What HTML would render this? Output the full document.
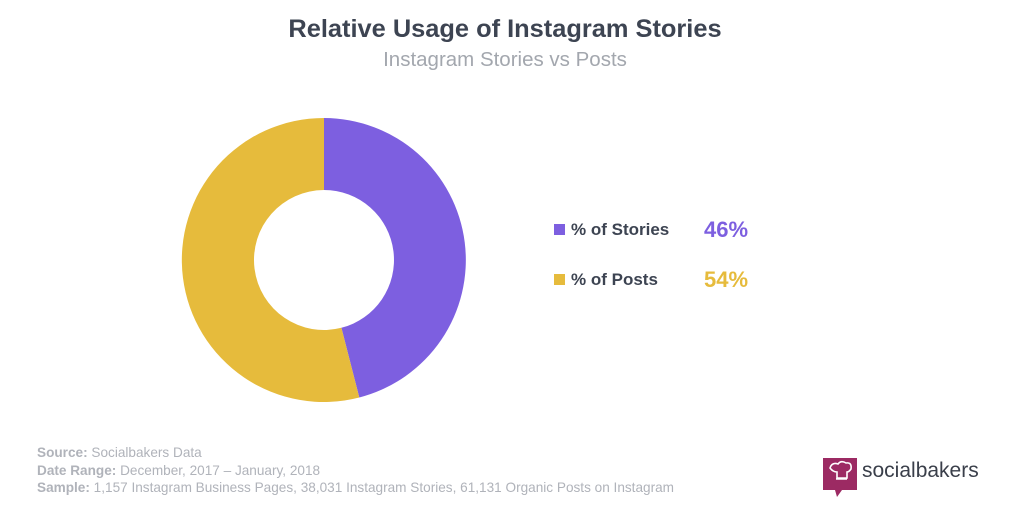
<!DOCTYPE html>
<html><head><style>
body{margin:0;width:1024px;height:528px;background:#fff;font-family:"Liberation Sans",sans-serif;position:relative;overflow:hidden}
.t{position:absolute;left:0;width:1010px;text-align:center}
.a{position:absolute;white-space:nowrap}
</style></head><body>
<div class="t" style="top:15px;font-size:25.4px;font-weight:bold;color:#3d4452">Relative Usage of Instagram Stories</div>
<div class="t" style="top:48px;font-size:20.5px;color:#a3a7ae">Instagram Stories vs Posts</div>
<svg style="position:absolute;left:0;top:0" width="1024" height="528">
<path d="M324,118 A142,142 0 0 1 359.3,397.5 L341.4,327.8 A70,70 0 0 0 324,190 Z" fill="#7d5fe0"/>
<path d="M359.3,397.5 A142,142 0 1 1 324,118 L324,190 A70,70 0 1 0 341.4,327.8 Z" fill="#e6bb3c"/>
<rect x="554" y="224" width="11" height="11" fill="#7d5fe0"/>
<rect x="554" y="274" width="11" height="11" fill="#e6bb3c"/>
<path d="M823,458 h34 v32 h-15 l-5,7 l-2,-7 h-12 z" fill="#9c2a63"/>
<path d="M830,468 q2,-6 8,-4 q3,-4 8,-1 q6,-1 5,6 q-2,3 -4,3 v6 h-10 v-6 q-4,0 -7,-4 z M836,479 h11" fill="none" stroke="#fff" stroke-width="1.6"/>
</svg>
<div class="a" style="left:571px;top:220px;font-size:17px;font-weight:bold;color:#3d4452">% of Stories</div>
<div class="a" style="left:704px;top:217px;font-size:22px;font-weight:bold;color:#7d5fe0">46%</div>
<div class="a" style="left:571px;top:270px;font-size:17px;font-weight:bold;color:#3d4452">% of Posts</div>
<div class="a" style="left:704px;top:267px;font-size:22px;font-weight:bold;color:#e6bb3c">54%</div>
<div class="a" style="left:862px;top:459px;font-size:21px;color:#3a3f4a">socialbakers</div>
<div class="a" style="left:37px;top:444px;font-size:13.6px;line-height:17.5px;color:#b0b3ba">
<b>Source:</b> Socialbakers Data<br><b>Date Range:</b> December, 2017 – January, 2018<br><b>Sample:</b> 1,157 Instagram Business Pages, 38,031 Instagram Stories, 61,131 Organic Posts on Instagram</div>
</body></html>
